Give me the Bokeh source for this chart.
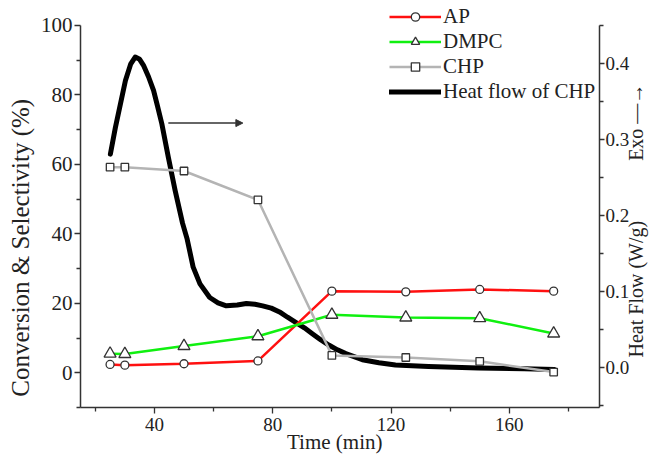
import math
from bokeh.plotting import figure
from bokeh.models import (Range1d, LinearAxis, FixedTicker, PrintfTickFormatter,
                          Legend, LegendItem, Arrow, NormalHead)
from bokeh.embed import file_html
from bokeh.resources import INLINE

# ---- data ----
time_min = [25, 30, 50, 75, 100, 125, 150, 175]
ap = [2.4, 2.2, 2.6, 3.4, 23.5, 23.3, 24.0, 23.5]
dmpc = [5.5, 5.4, 7.7, 10.5, 16.7, 15.9, 15.7, 11.3]
chp = [59.2, 59.2, 58.1, 49.8, 5.0, 4.4, 3.3, 0.2]

hf_time = [25.1, 26.8, 28.5, 30.2, 32.0, 33.5, 35.0, 36.3, 38.0, 39.7, 41.0, 42.5,
           44.7, 47.0, 49.5, 51.0, 53.1, 55.4, 58.7, 61.5, 64.3, 68.0, 71.1, 74.0,
           76.6, 79.5, 82.3, 85.0, 87.9, 90.7, 93.5, 96.3, 99.1, 101.9, 104.7,
           110.3, 115.9, 121.5, 132.7, 149.5, 165.0, 175.3]
hf_value = [0.281, 0.316, 0.347, 0.378, 0.400, 0.409, 0.406, 0.398, 0.383, 0.365,
            0.345, 0.321, 0.277, 0.233, 0.190, 0.170, 0.132, 0.110, 0.092, 0.085,
            0.081, 0.082, 0.084, 0.083, 0.081, 0.078, 0.073, 0.066, 0.059, 0.052,
            0.044, 0.036, 0.029, 0.023, 0.018, 0.010, 0.006, 0.003, 0.001, -0.001,
            -0.002, -0.003]

x_major = [40, 80, 120, 160]
x_minor = [20, 60, 100, 140, 180]
yl_major = [0, 20, 40, 60, 80, 100]
yl_minor = [-10, 10, 30, 50, 70, 90]
yr_major = [0.0, 0.1, 0.2, 0.3, 0.4]
yr_minor = [-0.05, 0.05, 0.15, 0.25, 0.35, 0.45]

series_names = ["AP", "DMPC", "CHP", "Heat flow of CHP"]
x_title = "Time (min)\u2002"
yl_title = "Conversion & Selectivity (%)\u2003\u2003\u2003\u2002"
yr_title = "\u2003\u2003\u2002Heat Flow (W/g)\u2003\u2003\u2003Exo \u2014\u2192"

# ---- layout constants ----
FONT = "Liberation Serif"
inner_arrow = dict(x_start=44.7, y_start=71.9, x_end=69.9, y_end=71.9)
yl_bounds = (-10, 100)
yr_bounds = (-0.053, 0.4505)

p = figure(width=661, height=459, output_backend="svg", toolbar_location=None,
           x_range=Range1d(15, 190.5), y_range=Range1d(-10, 107.19),
           min_border_left=80, min_border_right=59, min_border_top=0,
           min_border_bottom=52)
p.extra_y_ranges = {"heat": Range1d(-0.053, 0.4835)}
p.xgrid.visible = False
p.ygrid.visible = False
p.outline_line_color = None
p.background_fill_color = "white"
p.border_fill_color = "white"

hf = p.line(hf_time, hf_value, y_range_name="heat", line_width=5, color="black",
            line_join="round", line_cap="round")

l_ap = p.line(time_min, ap, color="#ff1010", line_width=2.5)
m_ap = p.scatter(time_min, ap, marker="circle", size=8, fill_color="white",
                 line_color="#333333", line_width=1.3)
l_dm = p.line(time_min, dmpc, color="#10f010", line_width=2.5)
m_dm = p.scatter(time_min, dmpc, marker="triangle", size=12, fill_color="white",
                 line_color="#333333", line_width=1.3)
l_ch = p.line(time_min, chp, color="#b4b4b4", line_width=2.5)
m_ch = p.scatter(time_min, chp, marker="square", size=7.5, fill_color="white",
                 line_color="#333333", line_width=1.3)


def style_axis(ax, size):
    ax.axis_line_color = "#333333"
    ax.axis_line_width = 1.5
    ax.major_tick_line_color = "#333333"
    ax.minor_tick_line_color = "#333333"
    ax.major_tick_line_width = 1.3
    ax.minor_tick_line_width = 1.3
    ax.major_tick_in = 0
    ax.major_tick_out = 6
    ax.minor_tick_in = 0
    ax.minor_tick_out = 4
    ax.major_label_text_font = FONT
    ax.major_label_text_font_size = size
    ax.major_label_text_color = "#222222"
    ax.major_label_standoff = 3
    ax.axis_label_text_font = FONT
    ax.axis_label_text_font_style = "normal"
    ax.axis_label_text_color = "#222222"


xa = p.xaxis[0]
xa.ticker = FixedTicker(ticks=x_major, minor_ticks=x_minor)
style_axis(xa, "19px")
xa.major_label_standoff = 4
xa.axis_label = x_title
xa.axis_label_text_font_size = "21px"
xa.axis_label_standoff = -4

ya = p.yaxis[0]
ya.ticker = FixedTicker(ticks=yl_major, minor_ticks=yl_minor)
ya.bounds = yl_bounds
style_axis(ya, "21px")
ya.major_label_standoff = 2
ya.axis_label = yl_title
ya.axis_label_text_font_size = "25px"
ya.axis_label_standoff = 4

ra = LinearAxis(y_range_name="heat",
                ticker=FixedTicker(ticks=yr_major, minor_ticks=yr_minor),
                formatter=PrintfTickFormatter(format="%.1f"),
                bounds=yr_bounds)
style_axis(ra, "19px")
ra.major_tick_out = 5
ra.major_label_standoff = 1
ra.axis_label = yr_title
ra.axis_label_text_font_size = "20px"
ra.axis_label_standoff = 4
ra.axis_label_orientation = math.pi / 2
ra.axis_label_align = "start"
p.add_layout(ra, "right")

p.add_layout(Arrow(**inner_arrow, line_width=1.5, line_color="#333333",
                   end=NormalHead(size=7, fill_color="#333333",
                                  line_color="#333333")))

legend = Legend(items=[
    LegendItem(label=series_names[0], renderers=[l_ap, m_ap]),
    LegendItem(label=series_names[1], renderers=[l_dm, m_dm]),
    LegendItem(label=series_names[2], renderers=[l_ch, m_ch]),
    LegendItem(label=series_names[3], renderers=[hf]),
], location=(309, 303), glyph_width=52, glyph_height=21, label_height=21,
    spacing=-2, padding=0, margin=0, border_line_color=None,
    background_fill_alpha=0, label_text_font=FONT, label_text_font_size="21px",
    label_standoff=2, label_text_color="#222222")
p.add_layout(legend)

open("out.html", "w").write(file_html(p, INLINE))
